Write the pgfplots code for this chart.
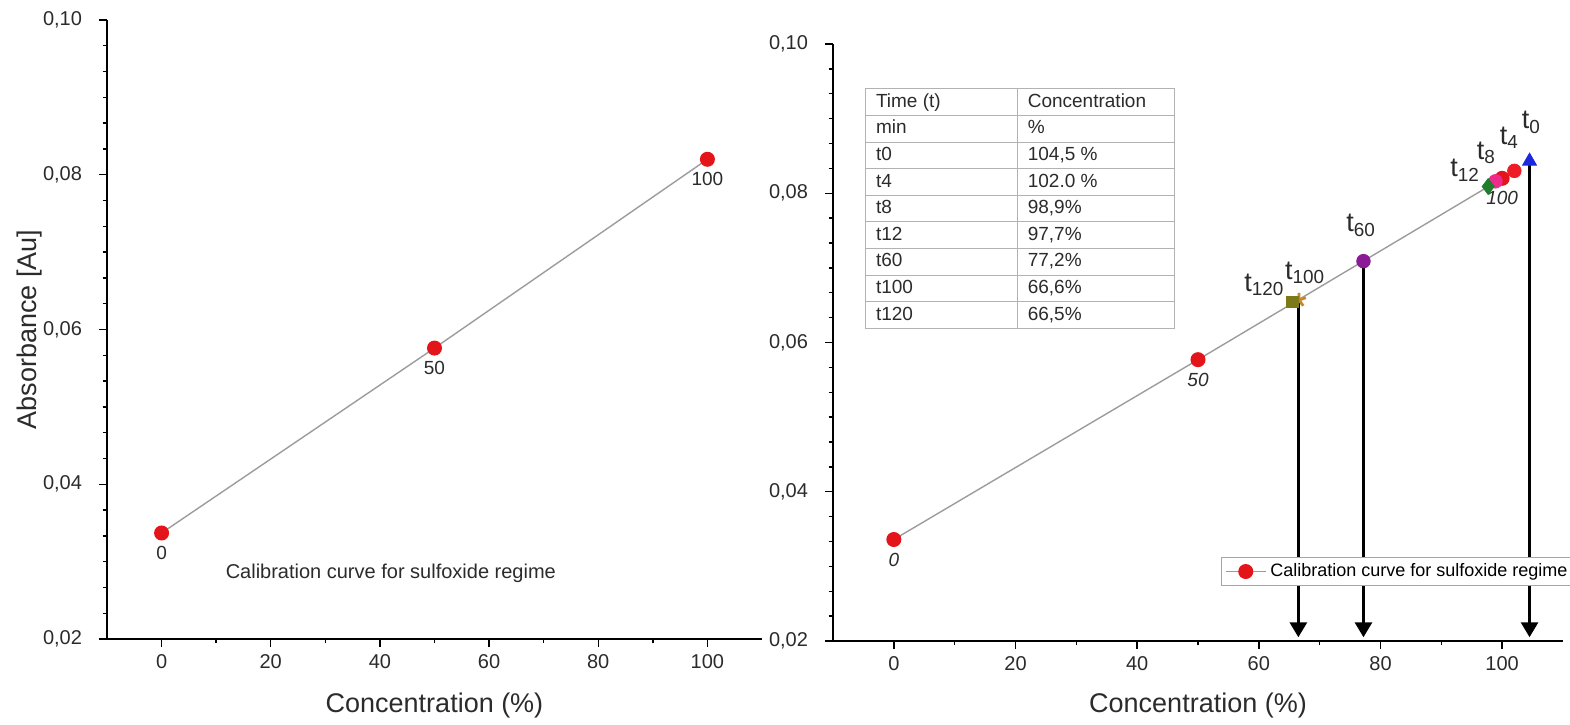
\documentclass[border=0pt]{standalone}
\usepackage{fontspec}
\setmainfont{Liberation Sans}
\usepackage{pgfplots}
\pgfplotsset{compat=1.18}
\usetikzlibrary{arrows.meta}
\usepackage{array}
\usepackage{colortbl}

\definecolor{calred}{HTML}{E3151B}
\definecolor{calline}{HTML}{9C9C9C}
\definecolor{txt}{HTML}{2B2B2B}
\definecolor{tblue}{HTML}{1C28E0}
\definecolor{tred}{HTML}{EE1C24}
\definecolor{tpink}{HTML}{EE2A8A}
\definecolor{tgreen}{HTML}{1E7E2C}
\definecolor{tpurple}{HTML}{8B1A96}
\definecolor{torange}{HTML}{C8872A}
\definecolor{tolive}{HTML}{7C7A18}

\tikzset{tlab/.style={font=\fontsize{13.5}{15}\selectfont, text=txt}}

\pgfplotsset{
  calaxis/.style={
    scale only axis,
    axis x line*=bottom, axis y line*=left,
    axis line style={black, line width=0.8pt},
    xmin=-10, xmax=110, ymin=0.02, ymax=0.10,
    xtick={0,20,40,60,80,100},
    ytick={0.02,0.04,0.06,0.08,0.10},
    minor x tick num=1, minor y tick num=5,
    tick align=outside,
    major tick length=4pt, minor tick length=2.2pt,
    tick style={black, line width=0.7pt},
    scaled y ticks=false,
    yticklabel style={/pgf/number format/fixed, /pgf/number format/fixed zerofill,
      /pgf/number format/precision=2, /pgf/number format/use comma, xshift=-5pt},
    /pgf/number format/assume math mode=true,
    tick label style={font=\fontsize{10}{12}\selectfont, text=txt},
    label style={font=\fontsize{13.5}{16}\selectfont, text=txt},
    xlabel={Concentration (\%)},
    clip=false,
  },
  calpts/.style={calline, line width=0.7pt, mark=*, mark size=3.4pt,
    mark options={fill=calred, draw=calred},
    nodes near coords, point meta=explicit symbolic},
  downarrow/.style={black, line width=1.5pt, forget plot,
    -{Triangle[width=8.5pt,length=7.5pt]}},
}

\begin{document}
\begin{tikzpicture}
\path[use as bounding box] (0,0) rectangle (785pt,362pt);

% left panel
\begin{axis}[calaxis, at={(53.5pt,42.5pt)}, anchor=south west,
  width=327.5pt, height=309.5pt,
  ylabel={Absorbance [Au]},
  ylabel style={at={(axis description cs:-0.1176,0.5)}, anchor=center},
  xlabel style={at={(axis description cs:0.5,0)}, anchor=center, yshift=-33.5pt}]
\addplot[calpts, every node near coord/.style={anchor=north, yshift=-3pt,
  font=\fontsize{9.5}{11}\selectfont, text=txt}]
  coordinates {(0,0.0337)[0] (50,0.0576)[50] (100,0.0820)[100]};
\node[font=\fontsize{10}{12}\selectfont, text=txt] at (axis cs:42,0.0285)
  {Calibration curve for sulfoxide regime};
\end{axis}

% right panel
\begin{axis}[calaxis, at={(416.5pt,41.5pt)}, anchor=south west,
  width=365pt, height=298.5pt,
  xlabel style={at={(axis description cs:0.5,0)}, anchor=center, yshift=-32.5pt},
  legend style={at={(0.531,0.1407)}, anchor=north west, draw=gray!70,
    line width=0.5pt, font=\fontsize{9}{10}\selectfont, inner xsep=2pt, inner ysep=1pt},
  legend image code/.code={%
    \draw[#1, mark repeat=2, mark phase=2] plot coordinates {(0cm,0cm) (0.35cm,0cm) (0.7cm,0cm)};}]
\addplot[calpts, every node near coord/.style={anchor=north, yshift=-3pt,
  font=\fontsize{9.5}{11}\selectfont\itshape, text=txt}]
  coordinates {(0,0.0336)[0] (50,0.0577)[50] (100,0.0820)[100]};
\addlegendentry{Calibration curve for sulfoxide regime}

\addplot[downarrow] coordinates {(66.5,0.0661) (66.5,0.0205)};
\addplot[downarrow] coordinates {(77.2,0.0708) (77.2,0.0205)};
\addplot[downarrow] coordinates {(104.5,0.0838) (104.5,0.0205)};

\addplot[only marks, forget plot, mark=triangle*, mark size=4pt, mark options={fill=tblue, draw=tblue}] coordinates {(104.5,0.0843)};
\addplot[only marks, forget plot, mark=*, mark size=3.4pt, mark options={fill=tred, draw=tred}] coordinates {(102.0,0.0830)};
\addplot[only marks, forget plot, mark=*, mark size=3.4pt, mark options={fill=tpink, draw=tpink}] coordinates {(98.9,0.0816)};
\addplot[only marks, forget plot, mark=diamond*, mark size=4pt, mark options={fill=tgreen, draw=tgreen}] coordinates {(97.7,0.0809)};
\addplot[only marks, forget plot, mark=*, mark size=3.4pt, mark options={fill=tpurple, draw=tpurple}] coordinates {(77.2,0.0709)};
\addplot[only marks, forget plot, mark=star, mark size=3.6pt, mark options={draw=torange, line width=1.4pt}] coordinates {(66.6,0.0657)};
\addplot[only marks, forget plot, mark=square*, mark size=2.8pt, mark options={fill=tolive, draw=tolive}] coordinates {(65.5,0.0654)};

\node[tlab] at (axis cs:104.8,0.0895) {t\textsubscript{0}};
\node[tlab] at (axis cs:101.2,0.0874) {t\textsubscript{4}};
\node[tlab] at (axis cs:97.4,0.0854) {t\textsubscript{8}};
\node[tlab] at (axis cs:93.9,0.0831) {t\textsubscript{12}};
\node[tlab] at (axis cs:76.8,0.0757) {t\textsubscript{60}};
\node[tlab] at (axis cs:67.6,0.0693) {t\textsubscript{100}};
\node[tlab] at (axis cs:60.9,0.0677) {t\textsubscript{120}};

\node[anchor=north west, inner sep=0pt] at (axis cs:-4.77,0.0941) {%
  \fontsize{9.5}{12.9}\selectfont\color{txt}%
  \setlength{\tabcolsep}{5pt}\arrayrulecolor{gray!60}%
  \begin{tabular}{|p{65.5pt}|p{68pt}|}
  \hline
  Time (t) & Concentration \\ \hline
  min & \% \\ \hline
  t0 & 104,5 \% \\ \hline
  t4 & 102.0 \% \\ \hline
  t8 & 98,9\% \\ \hline
  t12 & 97,7\% \\ \hline
  t60 & 77,2\% \\ \hline
  t100 & 66,6\% \\ \hline
  t120 & 66,5\% \\ \hline
  \end{tabular}};
\end{axis}
\end{tikzpicture}
\end{document}
